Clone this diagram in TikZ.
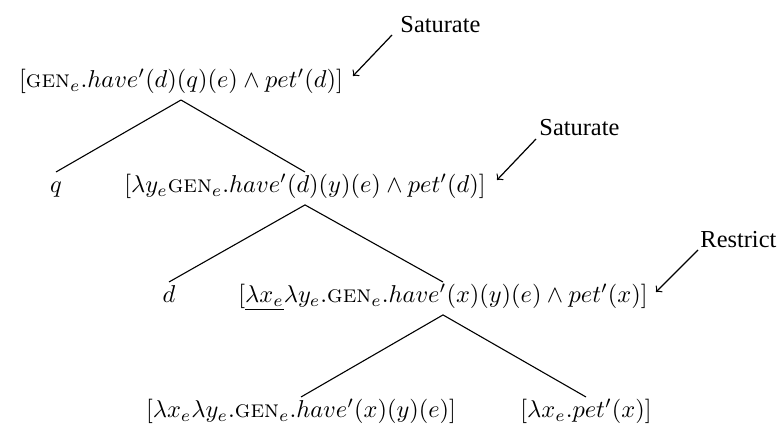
\documentclass[tikz,border=0pt]{standalone}
\usepackage{fontspec}
\newfontfamily\labfont{Liberation Serif}
\newcommand{\gensc}{\textsc{gen}}
\usetikzlibrary{calc}
\begin{document}
\begin{tikzpicture}[x=0.41pt,y=-0.41pt,
  tn/.style={inner sep=0pt, text height=8.3pt, text depth=4.8pt, font=\fontsize{10}{12}\selectfont},
  lab/.style={inner sep=0pt, anchor=base west, font=\labfont\fontsize{10}{12}\selectfont},
  edge/.style={line width=0.45pt},
  arr/.style={->, line width=0.5pt}]
\useasboundingbox (0,0) rectangle (779,424);
% tree nodes
\node[tn, anchor=south] (root) at (181,100) {$[\gensc_e.have'(d)(q)(e)\wedge pet'(d)]$};
\node[tn, anchor=north] (q) at (56,172) {$q$};
\node[tn, anchor=north] (n2) at (305,172) {$[\lambda y_e\gensc_e.have'(d)(y)(e)\wedge pet'(d)]$};
\node[tn, anchor=north] (d) at (169,282) {$d$};
\node[tn, anchor=north] (n3) at (443,282) {$[\underline{\lambda x_e}\lambda y_e.\gensc_e.have'(x)(y)(e)\wedge pet'(x)]$};
\node[tn, anchor=north] (l1) at (301,397) {$[\lambda x_e\lambda y_e.\gensc_e.have'(x)(y)(e)]$};
\node[tn, anchor=north] (l2) at (586,397) {$[\lambda x_e.pet'(x)]$};
% edges
\draw[edge] (root.south) -- (q.north);
\draw[edge] (root.south) -- (n2.north);
\draw[edge] (n2.south) -- (d.north);
\draw[edge] (n2.south) -- (n3.north);
\draw[edge] (n3.south) -- (l1.north);
\draw[edge] (n3.south) -- (l2.north);
% labels
\node[lab] (s1) at (400,33) {Saturate};
\node[lab] (s2) at (539,136) {Saturate};
\node[lab] (r3) at (700,248) {Restrict};
\coordinate (s1a) at ($(s1.base west)+(-8,2)$);
\coordinate (s2a) at ($(s2.base west)+(-3,3)$);
\coordinate (r3a) at ($(r3.base west)+(-2,2)$);
\coordinate (t1) at (353,76);
\coordinate (t2) at (497,180);
\coordinate (t3) at (656,292);
\draw[arr] (s1a) -- (t1);
\draw[arr] (s2a) -- (t2);
\draw[arr] (r3a) -- (t3);
\end{tikzpicture}
\end{document}
